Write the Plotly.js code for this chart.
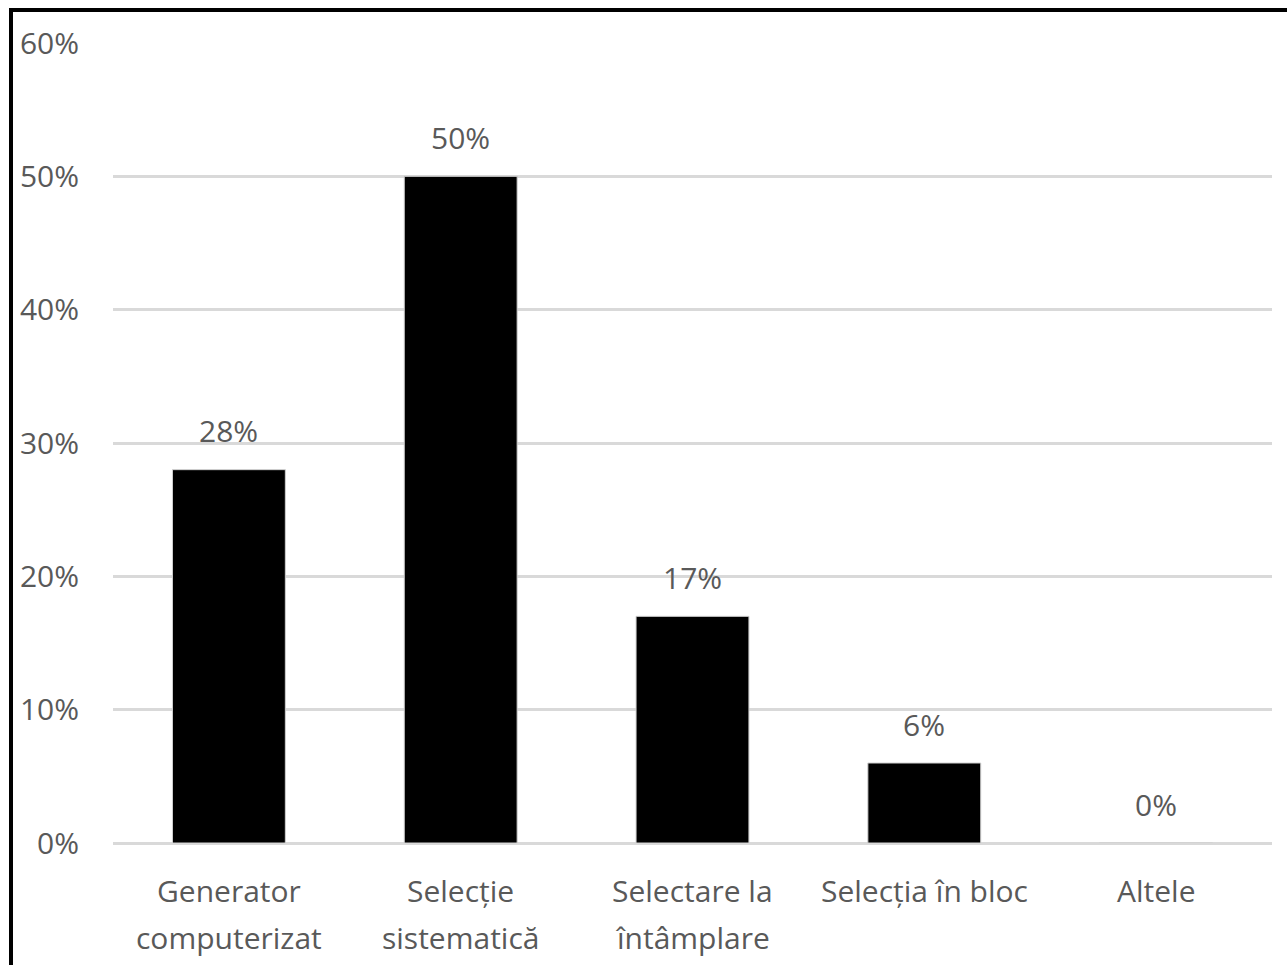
<!DOCTYPE html>
<html>
<head>
<meta charset="utf-8">
<script src="https://cdn.plot.ly/plotly-3.0.1.min.js"></script>
<style>
  html, body { margin: 0; padding: 0; background: #ffffff; }
  #wrap { position: relative; width: 1287px; height: 965px; overflow: hidden; }
  #chart { position: absolute; left: 0; top: 0; width: 1287px; height: 965px; }
  #frame { position: absolute; left: 9px; top: 8px; width: 1400px; height: 1100px;
           border-left: 4px solid #000; border-top: 4px solid #000; pointer-events: none; }
</style>
</head>
<body>
<div id="wrap">
  <div id="chart"></div>
  <div id="frame"></div>
</div>
<script>
const categories = ["Generator<br>computerizat", "Selecție<br>sistematică", "Selectare la<br>întâmplare", "Selecția în bloc", "Altele"];
const values = [0.28, 0.50, 0.17, 0.06, 0.00];
const valueLabels = ["28%", "50%", "17%", "6%", "0%"];
const yTickVals = [0, 0.1, 0.2, 0.3, 0.4, 0.5, 0.6];
const yTickText = ["0%", "10%", "20%", "30%", "40%", "50%", "60%"];

const fontFamily = "'Open Sans', 'Noto Sans', sans-serif";
const textColor = "#595959";
const fontSize = 30;
const xIdx = categories.map((_, i) => i);

const trace = {
  type: "bar",
  x: xIdx,
  y: values,
  marker: { color: "#000000", line: { color: "#d0d0d0", width: 1 } },
  hoverinfo: "skip"
};

const annotations = [];
values.forEach((v, i) => {
  annotations.push({
    x: i, y: v, xref: "x", yref: "y",
    text: valueLabels[i], showarrow: false,
    yanchor: "middle", xanchor: "center", yshift: 39,
    font: { family: fontFamily, size: fontSize, color: textColor }
  });
});
categories.forEach((c, i) => {
  c.split("<br>").forEach((line, j) => {
    annotations.push({
      x: i, y: 0, xref: "x", yref: "y",
      text: line, showarrow: false,
      yanchor: "middle", xanchor: "center", yshift: -47 - 47 * j,
      font: { family: fontFamily, size: fontSize, color: textColor }
    });
  });
});

const layout = {
  width: 1287, height: 965,
  margin: { l: 113, r: 15, t: 43, b: 122, pad: 0 },
  paper_bgcolor: "#ffffff", plot_bgcolor: "#ffffff",
  showlegend: false,
  bargap: 0.513,
  font: { family: fontFamily, size: fontSize, color: textColor },
  xaxis: {
    range: [-0.5, categories.length - 0.5],
    showticklabels: false, showgrid: false, zeroline: false,
    showline: false, ticks: "", fixedrange: true
  },
  yaxis: {
    range: [0, 0.6],
    tickvals: yTickVals, ticktext: yTickText,
    showgrid: true, gridcolor: "#d9d9d9", gridwidth: 3,
    zeroline: true, zerolinecolor: "#d9d9d9", zerolinewidth: 3,
    showline: false, ticks: "",
    ticklabelstandoff: 33,
    tickfont: { family: fontFamily, size: fontSize, color: textColor },
    fixedrange: true
  },
  annotations: annotations
};

Plotly.newPlot("chart", [trace], layout, { displayModeBar: false, staticPlot: true });
</script>
</body>
</html>
